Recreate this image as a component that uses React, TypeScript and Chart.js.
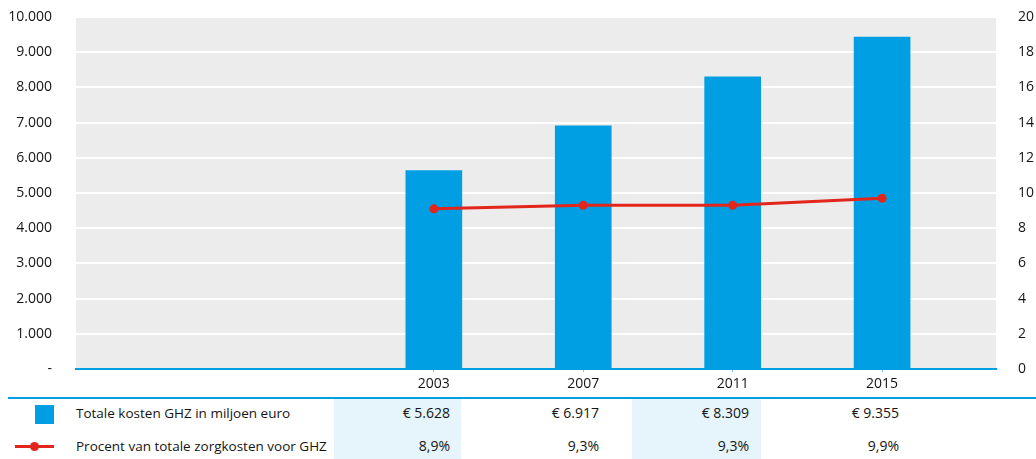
import React, { useEffect, useRef } from "react";
import { Chart, registerables } from "chart.js";

Chart.register(...registerables);

const years = [2003, 2007, 2011, 2015];
const costValues = [5640, 6910, 8300, 9430];
const percentValues = [9.1, 9.3, 9.3, 9.7];
const costLabels = ["€ 5.628", "€ 6.917", "€ 8.309", "€ 9.355"];
const percentLabels = ["8,9%", "9,3%", "9,3%", "9,9%"];
const seriesNames = ["Totale kosten GHZ in miljoen euro", "Procent van totale zorgkosten voor GHZ"];

const BLUE = "#009fe3";
const RED = "#e3261c";
const TEXT = "#141414";
const FONT = "'Open Sans', 'Noto Sans', sans-serif";

const fmtThousands = (v: number) =>
  v === 0 ? "-" : String(v).replace(/\B(?=(\d{3})+(?!\d))/g, ".");

const bgPlugin = {
  id: "plotBg",
  beforeDraw(chart: any) {
    const { ctx, chartArea } = chart;
    ctx.save();
    ctx.fillStyle = "#ececec";
    ctx.fillRect(chartArea.left, chartArea.top, chartArea.right - chartArea.left, chartArea.bottom - chartArea.top);
    ctx.restore();
  },
};

const zeroPad = (scale: any) => {
  scale.paddingTop = 0;
  scale.paddingBottom = 0;
  scale.paddingLeft = 0;
  scale.paddingRight = 0;
};

export default function App() {
  const ref = useRef<HTMLCanvasElement | null>(null);

  useEffect(() => {
    if (!ref.current) return;
    const chart = new Chart(ref.current, {
      type: "bar",
      data: {
        datasets: [
          {
            type: "line",
            label: seriesNames[1],
            data: years.map((x, i) => ({ x, y: percentValues[i] })),
            yAxisID: "y1",
            xAxisID: "x",
            borderColor: RED,
            backgroundColor: RED,
            borderWidth: 3,
            pointRadius: 4.5,
            pointBackgroundColor: RED,
            pointBorderWidth: 0,
            tension: 0,
            order: 0,
          } as any,
          {
            type: "bar",
            label: seriesNames[0],
            data: years.map((x, i) => ({ x, y: costValues[i] })),
            yAxisID: "y",
            xAxisID: "x",
            backgroundColor: BLUE,
            barThickness: 56,
            order: 1,
          } as any,
        ],
      },
      options: {
        responsive: false,
        animation: false,
        layout: { padding: { top: 17, left: 0, right: 0, bottom: 0 } },
        plugins: { legend: { display: false }, tooltip: { enabled: false } },
        scales: {
          x: {
            type: "linear",
            position: "bottom",
            offset: false,
            bounds: "ticks",
            min: 1993.42,
            max: 2018.05,
            afterBuildTicks(scale: any) {
              scale.ticks = years.map((v) => ({ value: v }));
            },
            afterFit(scale: any) {
              scale.height = 29;
              zeroPad(scale);
            },
            ticks: {
              color: TEXT,
              font: { family: FONT, size: 14 },
              padding: 4,
              maxRotation: 0,
              autoSkip: false,
              callback: (v: any) => String(v),
            },
            grid: { display: true, offset: false, drawOnChartArea: false, drawTicks: true, tickLength: 3, color: "#7cc8ee" },
            border: { display: true, color: BLUE, width: 2 },
          },
          y: {
            position: "left",
            min: 0,
            max: 10000,
            ticks: {
              stepSize: 1000,
              color: TEXT,
              font: { family: FONT, size: 14 },
              padding: 24,
              callback: (v: any) => fmtThousands(Number(v)),
            },
            afterFit(scale: any) {
              scale.width = 76;
              zeroPad(scale);
            },
            grid: {
              drawTicks: false,
              lineWidth: 2,
              color: (c: any) => (c.tick && c.tick.value === 0 ? "rgba(0,0,0,0)" : "#ffffff"),
            },
            border: { display: false },
          },
          y1: {
            position: "right",
            min: 0,
            max: 20,
            ticks: {
              stepSize: 2,
              color: TEXT,
              font: { family: FONT, size: 14 },
              padding: 22,
            },
            afterFit(scale: any) {
              scale.width = 40;
              zeroPad(scale);
            },
            grid: { display: false, drawTicks: false },
            border: { display: false },
          },
        },
      },
      plugins: [bgPlugin],
    } as any);
    return () => chart.destroy();
  }, []);

  const rightEdges = [450, 599, 749, 899];
  const shaded = [
    { left: 334, width: 127 },
    { left: 632, width: 129 },
  ];
  const cellStyle: React.CSSProperties = {
    position: "absolute",
    fontFamily: FONT,
    fontSize: 14,
    color: TEXT,
    whiteSpace: "nowrap",
    lineHeight: "18px",
  };

  return (
    <div style={{ position: "absolute", left: 0, top: 0, width: 1036, height: 459, background: "#fff", overflow: "hidden" }}>
      <canvas ref={ref} width={1036} height={398} style={{ position: "absolute", left: 0, top: 0, width: 1036, height: 398 }} />
      {shaded.map((s, i) => (
        <div key={"s" + i} style={{ position: "absolute", left: s.left, width: s.width, top: 399, height: 60, background: "#e6f4fc" }} />
      ))}
      <div style={{ position: "absolute", left: 8, right: 0, top: 397, height: 2, background: BLUE }} />
      <div style={{ position: "absolute", left: 35, top: 405, width: 19, height: 19, background: BLUE }} />
      <div style={{ position: "absolute", left: 15, top: 445, width: 39, height: 3, background: RED }} />
      <div style={{ position: "absolute", left: 30, top: 442, width: 9, height: 9, borderRadius: "50%", background: RED }} />
      <div style={{ ...cellStyle, fontSize: 13.5, left: 76, top: 404 }}>{seriesNames[0]}</div>
      <div style={{ ...cellStyle, fontSize: 13.5, left: 76, top: 437 }}>{seriesNames[1]}</div>
      {costLabels.map((t, i) => (
        <div key={"c" + i} style={{ ...cellStyle, right: 1036 - rightEdges[i], top: 404, textAlign: "right" }}>{t}</div>
      ))}
      {percentLabels.map((t, i) => (
        <div key={"p" + i} style={{ ...cellStyle, right: 1036 - rightEdges[i], top: 437, textAlign: "right" }}>{t}</div>
      ))}
    </div>
  );
}
